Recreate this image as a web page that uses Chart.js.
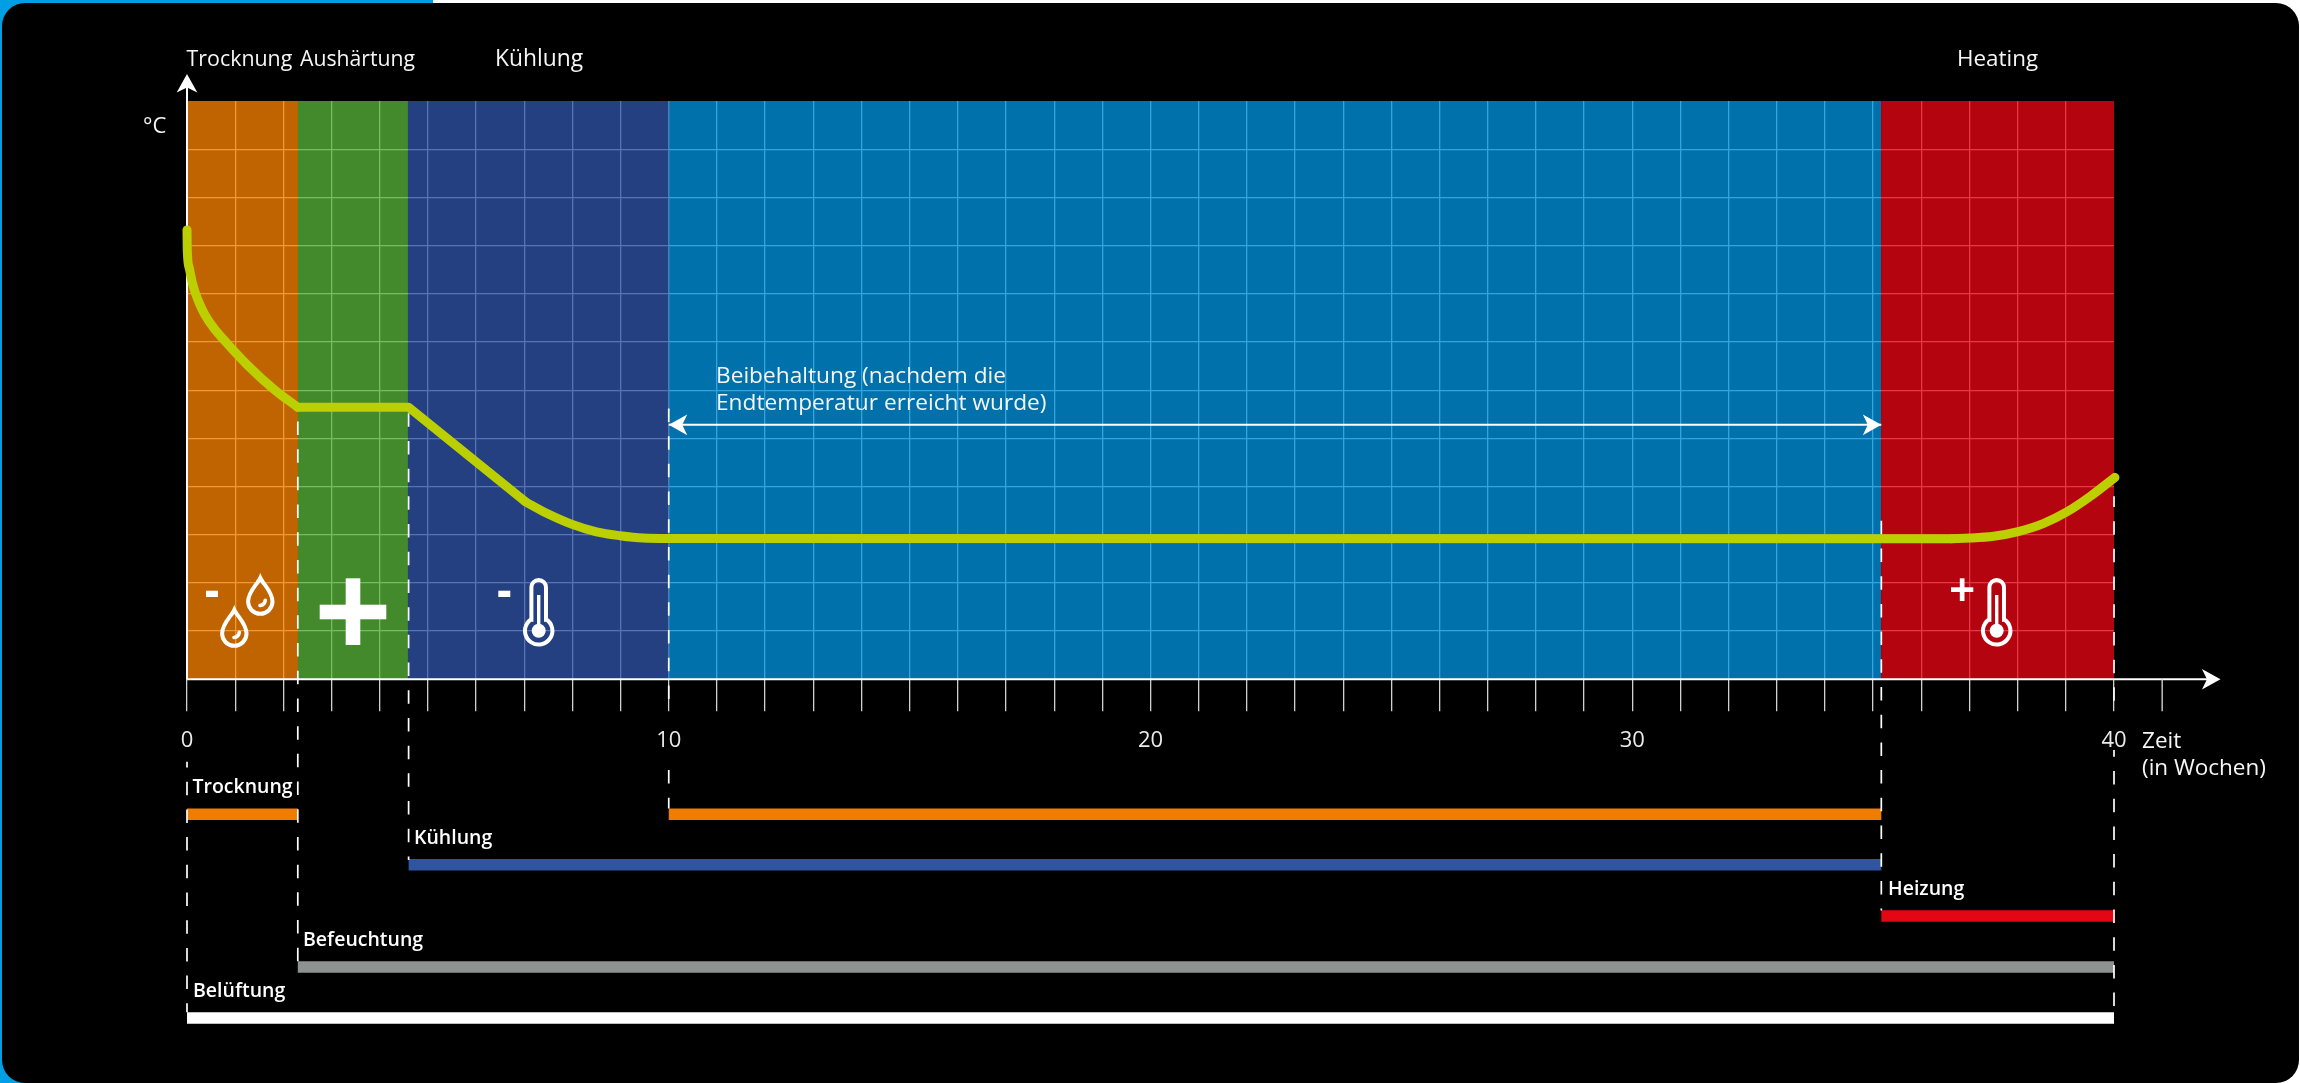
<!DOCTYPE html>
<html>
<head>
<meta charset="utf-8">
<title>Trocknung und Lagerung</title>
<script src="https://cdn.jsdelivr.net/npm/chart.js@4"></script>
<style>
  html, body { margin: 0; padding: 0; background: #fff; overflow: hidden; }
  #page { position: relative; width: 2300px; height: 1083px; }
  #leftEdge { position: absolute; left: 0; top: 0; width: 40px; height: 1083px; background: #009fe3; }
  #topEdge { position: absolute; left: 0; top: 0; width: 433px; height: 30px; background: #009fe3; }
  #panel { position: absolute; left: 2px; top: 3px; width: 2297px; height: 1080px; background: #000; border-radius: 23px; }
  #chart { position: absolute; left: 0; top: 0; }
</style>
</head>
<body>
<div id="page">
  <div id="leftEdge"></div>
  <div id="topEdge"></div>
  <div id="panel"></div>
  <canvas id="chart" width="2300" height="1083"></canvas>
</div>
<script>
// x = weeks, y = temperature grid units
const xTickLabels = [0, 10, 20, 30, 40];
const phaseNames = ['Trocknung', 'Aushärtung', 'Kühlung', 'Heating'];
const phaseEdges = [0, 2.304, 4.587, 10.005, 35.164, 40];
const phaseColors = ['rgba(239,125,0,.8)', 'rgba(82,172,54,.8)', 'rgba(45,80,160,.8)', 'rgba(0,141,212,.8)', 'rgba(224,5,19,.8)'];

// curve pieces: drying, hold + linear cooling, cooling tail + plateau, heating
const dryWeeks = [0, 0.007, 0.048, 0.104, 0.18, 0.27, 0.374, 0.56, 0.81, 1.252, 1.827, 2.297];
const dryTemps = [9.325, 8.876, 8.53, 8.253, 7.997, 7.77, 7.56, 7.284, 6.994, 6.523, 5.998, 5.645];
const holdWeeksCurve = [2.297, 4.6, 7.02];
const holdTemps = [5.645, 5.645, 3.687];
const tailWeeks = [7.02, 7.466, 7.98, 8.5, 8.99, 9.47, 10, 36.63];
const tailTemps = [3.687, 3.445, 3.22, 3.06, 2.98, 2.93, 2.92, 2.919];
const heatWeeks = [36.63, 37.01, 37.5, 38.01, 38.53, 39.02, 39.5, 40.02];
const heatTemps = [2.919, 2.93, 2.967, 3.064, 3.23, 3.472, 3.79, 4.19];

const ganttNames = ['Trocknung', 'Kühlung', 'Heizung', 'Befeuchtung', 'Belüftung'];
const ganttStarts = [[0, 10], [4.6], [35.17], [2.3], [0]];
const ganttEnds = [[2.3, 35.17], [35.17], [40], [40], [40]];
const ganttColors = ['#ef7d00', '#2f54a0', '#e30613', '#8e9291', '#ffffff'];
const ganttRows = [-2.8, -3.85, -4.91, -5.97, -7.03];

// the lines at 10 and 40 break around their tick label
const dashWeeks = [0, 2.3, 4.6, 10, 10, 35.17, 40, 40];
const dashTops = [-1.71, 5.6, 5.6, 5.62, -1.884, 3.33, 3.8, -1.467];
const dashBottoms = [-6.91, -5.86, -3.75, -0.67, -2.68, -4.8, -0.67, -6.91];
const dashOffsets = [7.7, 15.7, 23.9, 0, 0, 25.7, 2.7, 6.7];

const holdWeeks = [10, 35.17];
const holdLevel = 5.28;

const FONT = '"Open Sans", "Noto Sans", sans-serif';
const pts = (xs, ys) => xs.map((x, i) => ({ x, y: ys[i] }));

const datasets = [];

// lowest index ends up on top
[[dryWeeks, dryTemps, 'monotone'], [holdWeeksCurve, holdTemps, 'default'], [tailWeeks, tailTemps, 'monotone'], [heatWeeks, heatTemps, 'monotone']].forEach(p => {
  datasets.push({
    data: pts(p[0], p[1]),
    borderColor: '#bccf00', borderWidth: 9, borderCapStyle: 'round', borderJoinStyle: 'round',
    cubicInterpolationMode: p[2], tension: 0,
    pointRadius: 0, clip: false
  });
});

datasets.push({
  data: pts(holdWeeks, [holdLevel, holdLevel]),
  borderColor: '#fff', borderWidth: 2, pointRadius: 0, clip: false
});

dashWeeks.forEach((w, i) => {
  datasets.push({
    data: pts([w, w], [dashTops[i], dashBottoms[i]]),
    borderColor: '#fff', borderWidth: 1.7, borderDash: [13.5, 14.2], borderDashOffset: dashOffsets[i],
    pointRadius: 0, clip: false
  });
});

ganttNames.forEach((name, i) => {
  ganttStarts[i].forEach((s, j) => {
    datasets.push({
      label: name,
      data: pts([s, ganttEnds[i][j]], [ganttRows[i], ganttRows[i]]),
      borderColor: ganttColors[i], borderWidth: 11.5, borderCapStyle: 'butt',
      pointRadius: 0, clip: false
    });
  });
});

// axis lines
datasets.push({ data: pts([0, 42], [0, 0]), borderColor: '#fff', borderWidth: 2, pointRadius: 0, clip: false });
datasets.push({ data: pts([0, 0], [0, 12.45]), borderColor: '#fff', borderWidth: 2, pointRadius: 0, clip: false });

// phase backgrounds, translucent over the white grid
phaseColors.forEach((c, i) => {
  datasets.push({
    data: pts([phaseEdges[i], phaseEdges[i + 1]], [12, 12]),
    borderWidth: 0, pointRadius: 0, backgroundColor: c, fill: { value: 0 }
  });
});

function arrowHead(ctx, x, y, angle) {
  ctx.save();
  ctx.translate(x, y);
  ctx.rotate(angle);
  ctx.fillStyle = '#fff';
  ctx.beginPath();
  ctx.moveTo(0, 0);
  ctx.lineTo(-18.5, -10.3);
  ctx.lineTo(-13.5, 0);
  ctx.lineTo(-18.5, 10.3);
  ctx.closePath();
  ctx.fill();
  ctx.restore();
}

function drop(ctx, x, top) {
  const r = 12.2, cy = top + 26.3;
  ctx.lineWidth = 4;
  ctx.beginPath();
  ctx.moveTo(x, top + 2.5);
  ctx.bezierCurveTo(x + 3, top + 9, x + r, cy - 10, x + r, cy);
  ctx.arc(x, cy, r, 0, Math.PI);
  ctx.bezierCurveTo(x - r, cy - 10, x - 3, top + 9, x, top + 2.5);
  ctx.closePath();
  ctx.stroke();
  ctx.lineWidth = 3.6;
  ctx.beginPath();
  ctx.arc(x - 1, cy - 2, 6, 0.1, 1.45);
  ctx.stroke();
}

function thermometer(ctx, x, top) {
  const cy = top + 52.8;
  ctx.lineWidth = 4;
  ctx.beginPath();
  ctx.moveTo(x - 7.3, cy - 11.5);
  ctx.lineTo(x - 7.3, top + 9.3);
  ctx.arc(x, top + 9.3, 7.3, Math.PI, 0);
  ctx.lineTo(x + 7.3, cy - 11.5);
  ctx.arc(x, cy, 13.7, -1.0, Math.PI + 1.0);
  ctx.closePath();
  ctx.stroke();
  ctx.beginPath();
  ctx.arc(x, cy, 7, 0, Math.PI * 2);
  ctx.fill();
  ctx.fillRect(x - 1.7, top + 17, 3.4, 32);
}

const overlay = {
  id: 'overlay',
  afterDatasetsDraw(chart) {
    const { ctx, scales: { x, y } } = chart;
    ctx.save();

    // arrows
    arrowHead(ctx, x.getPixelForValue(42.21), y.getPixelForValue(0), 0);
    arrowHead(ctx, x.getPixelForValue(0), y.getPixelForValue(12.56), -Math.PI / 2);
    arrowHead(ctx, x.getPixelForValue(holdWeeks[0]), y.getPixelForValue(holdLevel), Math.PI);
    arrowHead(ctx, x.getPixelForValue(holdWeeks[1]), y.getPixelForValue(holdLevel), 0);

    // last tick past the scale end
    ctx.strokeStyle = '#d0d0d0';
    ctx.lineWidth = 1.4;
    ctx.beginPath();
    ctx.moveTo(x.getPixelForValue(41), y.getPixelForValue(0));
    ctx.lineTo(x.getPixelForValue(41), y.getPixelForValue(0) + 32);
    ctx.stroke();

    // text
    ctx.fillStyle = '#f6f6f6';
    ctx.textBaseline = 'alphabetic';
    ctx.textAlign = 'left';
    const size = s => s + 'px ' + FONT;
    ctx.font = size(21.4);
    ctx.fillText(phaseNames[0], 186.5, 66);
    ctx.font = size(21.2);
    ctx.fillText(phaseNames[1], 300, 66);
    ctx.font = size(22.8);
    ctx.fillText(phaseNames[2], 495, 66);
    ctx.font = size(22.4);
    ctx.fillText(phaseNames[3], 1957, 66);
    ctx.font = size(22);
    ctx.fillText('°C', 143, 133);
    ctx.font = size(22.7);
    ctx.fillText('Beibehaltung (nachdem die', 716, 382.5);
    ctx.fillText('Endtemperatur erreicht wurde)', 716, 410);
    ctx.font = size(22.5);
    ctx.fillText('Zeit', 2142, 748);
    ctx.fillText('(in Wochen)', 2142, 775);

    ctx.fillStyle = '#fff';
    ctx.font = '600 19.5px ' + FONT;
    const gx = [192.5, 414, 1888, 303, 193];
    const gy = [793, 844, 895, 945.5, 997];
    ganttNames.forEach((n, i) => ctx.fillText(n, gx[i], gy[i]));

    // icons
    ctx.strokeStyle = '#fff';
    ctx.lineCap = 'round';
    ctx.fillRect(206, 590.7, 12, 6.3);
    drop(ctx, 260.3, 575.3);
    drop(ctx, 234.3, 607.3);
    ctx.fillRect(345.7, 578.3, 14.6, 66.7);
    ctx.fillRect(319.7, 604.7, 66.6, 14.6);
    ctx.fillRect(498.3, 590.7, 12, 6.3);
    thermometer(ctx, 538.7, 578);
    ctx.fillRect(1951, 587.3, 22.3, 4.7);
    ctx.fillRect(1959.8, 578.3, 4.7, 22.7);
    thermometer(ctx, 1996.7, 578);

    ctx.restore();
  }
};

Chart.defaults.font.family = FONT;

new Chart(document.getElementById('chart'), {
  type: 'line',
  data: { datasets },
  plugins: [overlay],
  options: {
    responsive: false,
    animation: false,
    devicePixelRatio: 1,
    layout: { padding: { left: 187, right: 186, top: 101, bottom: 283.7 } },
    plugins: { legend: { display: false }, tooltip: { enabled: false } },
    scales: {
      x: {
        type: 'linear', min: 0, max: 40,
        afterFit(s) { s.height = 120; },
        border: { display: false },
        grid: {
          lineWidth: 1.3,
          tickLength: 32,
          tickColor: '#d0d0d0',
          color: ctx => (ctx.tick && (ctx.tick.value === 0 || ctx.tick.value === 40)) ? 'transparent' : '#fff'
        },
        ticks: {
          stepSize: 1, autoSkip: false, maxRotation: 0, padding: 16, color: '#eaeaea',
          font: { size: 22 },
          callback: v => xTickLabels.includes(v) ? String(v) : ''
        }
      },
      y: {
        type: 'linear', min: 0, max: 12,
        afterFit(s) { s.width = 0; },
        border: { display: false },
        grid: {
          lineWidth: 1.3,
          drawTicks: false,
          color: ctx => (ctx.tick && (ctx.tick.value === 0 || ctx.tick.value === 12)) ? 'transparent' : '#fff'
        },
        ticks: { display: false, stepSize: 1 }
      }
    }
  }
});
</script>
</body>
</html>
